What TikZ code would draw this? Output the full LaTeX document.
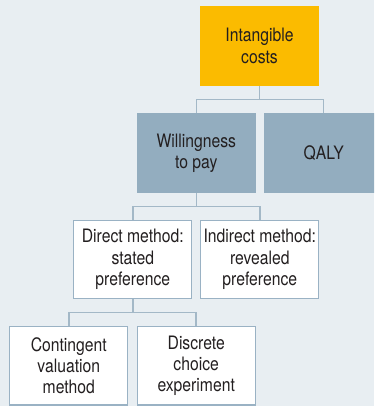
\documentclass[tikz,border=0pt]{standalone}
\usepackage{fontspec}
\setmainfont{TeX Gyre Heros}[FakeStretch=0.85]
\definecolor{bgpanel}{HTML}{E8EEF2}
\definecolor{topgold}{HTML}{FBBB00}
\definecolor{slateblue}{HTML}{93ADBF}
\definecolor{framecol}{HTML}{9AB2C4}
\definecolor{linkcol}{HTML}{A3B8C7}
\definecolor{inkcol}{HTML}{231F20}
\tikzset{
  box/.style={rectangle, minimum width=119pt, minimum height=80pt,
    inner sep=0pt, align=center, text=inkcol,
    font=\fontsize{18.5}{21.3}\selectfont},
  goldbox/.style={box, fill=topgold},
  slatebox/.style={box, fill=slateblue},
  whitebox/.style={box, fill=white, draw=framecol, line width=1.2pt,
    minimum width=118pt, minimum height=78.5pt},
  link/.style={draw=linkcol, line width=1.5pt}
}
\begin{document}
\begin{tikzpicture}[x=1pt,y=-1pt]
  \clip (0,0) rectangle (374,406);
  \fill[bgpanel] (0,0) rectangle (374,406);

  % top level
  \node[goldbox] (intang) at (259.5,46) {Intangible\\costs};

  % valuation approaches
  \node[slatebox] (wtp) at (196.3,153) {Willingness\\to pay};
  \node[slatebox] (qaly) at (323.7,153) {QALY};

  % methods
  \node[whitebox] (direct) at (132.8,259.5) {Direct method:\\stated\\preference};
  \node[whitebox] (indirect) at (259.8,259.5) {Indirect method:\\revealed\\preference};

  % stated-preference techniques
  \node[whitebox] (contingent) at (68.8,365.8) {Contingent\\valuation\\method};
  \node[whitebox] (discrete) at (196.2,365.8) {Discrete\\choice\\experiment};

  % elbow connectors
  \path[link] (intang.south) -- ++(0,13.5) -| (wtp.north);
  \path[link] (intang.south) -- ++(0,13.5) -| (qaly.north);
  \path[link] (wtp.south) -- ++(0,13.5) -| (direct.north);
  \path[link] (wtp.south) -- ++(0,13.5) -| (indirect.north);
  \path[link] (direct.south) -- ++(0,13.3) -| (contingent.north);
  \path[link] (direct.south) -- ++(0,13.3) -| (discrete.north);
\end{tikzpicture}
\end{document}
